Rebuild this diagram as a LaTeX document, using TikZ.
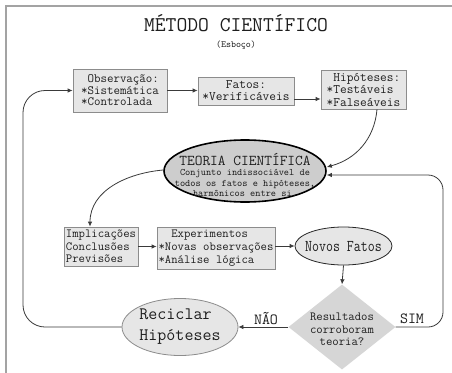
\documentclass[tikz,border=0pt]{standalone}
\usepackage{graphicx}
\usetikzlibrary{shapes.geometric,arrows.meta}

\definecolor{boxfill}{HTML}{E6E6E6}
\definecolor{boxline}{HTML}{8C8C8C}
\definecolor{teofill}{HTML}{CDCDCD}
\definecolor{diamfill}{HTML}{D6D6D6}
\definecolor{framecol}{HTML}{A3A3A3}
\definecolor{linecol}{HTML}{3A3A3A}
\definecolor{inkcol}{HTML}{1E1E1E}

% monospaced text at a given size and line spacing
\newcommand\ttsize[2]{\fontsize{#1}{#2}\selectfont\ttfamily}

\tikzset{
  conn/.style={draw=linecol, line width=0.8pt, -{Latex[length=5pt,width=4.5pt]}},
  infobox/.style={rectangle, draw=boxline, fill=boxfill, line width=0.8pt,
    inner sep=0pt, text=inkcol},
  label/.style={inner sep=0pt, text=inkcol},
  teoshape/.style={ellipse, draw=black, fill=teofill, line width=1.6pt,
    inner sep=0pt, minimum width=162pt, minimum height=62pt},
  softellipse/.style={ellipse, draw=#1, fill=boxfill, line width=0.8pt,
    inner sep=0pt},
  decision/.style={diamond, fill=diamfill, inner sep=0pt, aspect=1.26,
    minimum width=107pt, minimum height=85pt},
}

\begin{document}
\begin{tikzpicture}[x=1pt,y=-1pt]
\useasboundingbox (0,0) rectangle (452,372);
\fill[white] (0,0) rectangle (452,372);
\draw[framecol, line width=2pt] (6,373) -- (6,6) -- (453,6);

% heading
\node[label, font=\ttsize{21}{21}] (title) at (236,23) {MÉTODO CIENTÍFICO};
\node[label, font=\ttsize{9.5}{11}] (esboco) at (236,45) {(Esboço)};

% top row
\node[infobox, minimum width=94pt, minimum height=43pt, align=left,
      font=\ttsize{12.6}{11.6}] (obs) at (120,90.5)
      {\hphantom{O}Observação:\\{*}Sistemática\\{*}Controlada};
\node[infobox, minimum width=96pt, minimum height=28pt, align=center,
      font=\ttsize{13}{12}] (fatos) at (246,91)
      {Fatos:\\{*}Verificáveis};
\node[infobox, minimum width=85pt, minimum height=39pt, align=left,
      font=\ttsize{13}{12.5}] (hip) at (363.5,89.5)
      {\hphantom{H}Hipóteses:\\{*}Testáveis\\{*}Falseáveis};

% theory
\node[teoshape] (teoria) at (245,171) {};
\node[label, font=\ttsize{15}{15}] (teotitle) at (245,159.5) {TEORIA CIENTÍFICA};
\node[label, align=center, font=\ttsize{9.9}{10.6}] (teotext) at (245,183)
      {Conjunto indissociável de\\todos os fatos e hipóteses,\\harmônicos entre si.};

% middle row
\node[infobox, minimum width=74pt, minimum height=39pt, align=left,
      font=\ttsize{12.4}{12.5}] (impl) at (101,246.5)
      {Implicações\\Conclusões\\Previsões};
\node[infobox, minimum width=118pt, minimum height=42pt, align=left,
      font=\ttsize{12.4}{13}] (exp) at (216,248)
      {\hphantom{Ex}Experimentos\\{*}Novas observações\\{*}Análise lógica};
\node[softellipse=black!85, minimum width=97pt, minimum height=38pt] (novos) at (343.5,246) {};
\node[label, font=\ttsize{16.5}{16.5}] (novostext) at (343.5,247)
      {\scalebox{0.82}[1]{Novos Fatos}};

% bottom row
\node[decision] (diam) at (342,327) {};
\node[label, align=center, font=\ttsize{12.4}{12.5}] (diamtext) at (342,329.5)
      {Resultados\\corroboram\\teoria?};
\node[softellipse=boxline, minimum width=116pt, minimum height=57pt] (recic) at (180,327) {};
\node[label, align=left, font=\ttsize{17.5}{21}] (recictext) at (180,326.5)
      {Reciclar\\Hipóteses};
\node[label, font=\ttsize{15.5}{15.5}] (nao) at (266,319) {NÃO};
\node[label, font=\ttsize{15.5}{15.5}] (sim) at (412,318.5) {SIM};

% rails of the two feedback loops
\coordinate (lrail) at (23,200);
\coordinate (rrail) at (443,250);

% connectors
\draw[conn] (obs.east) -- (obs.east -| fatos.west);
\draw[conn] ([yshift=-8pt]fatos.east) -- ([yshift=-8pt]fatos.east -| hip.west);
\draw[conn] ([xshift=13.5pt]hip.south) to[out=-95,in=15] ([yshift=4pt]teoria.east);
\draw[conn] ([yshift=1pt]teoria.west) to[out=185,in=90] ([xshift=-11pt]impl.north);
\draw[conn] (impl.east) -- (impl.east -| exp.west);
\draw[conn] (novos.west -| exp.east) -- (novos.west);
\draw[conn] (novos.south) -- (diam.north);
\draw[conn] (diam.west) -- (recic.east);
\draw[conn, rounded corners=15pt] (diam.east) -| (rrail) |- ([yshift=-4pt]teoria.east);
\draw[conn, rounded corners=22pt] (recic.west) -| (lrail) |- (obs.west);
\end{tikzpicture}
\end{document}
